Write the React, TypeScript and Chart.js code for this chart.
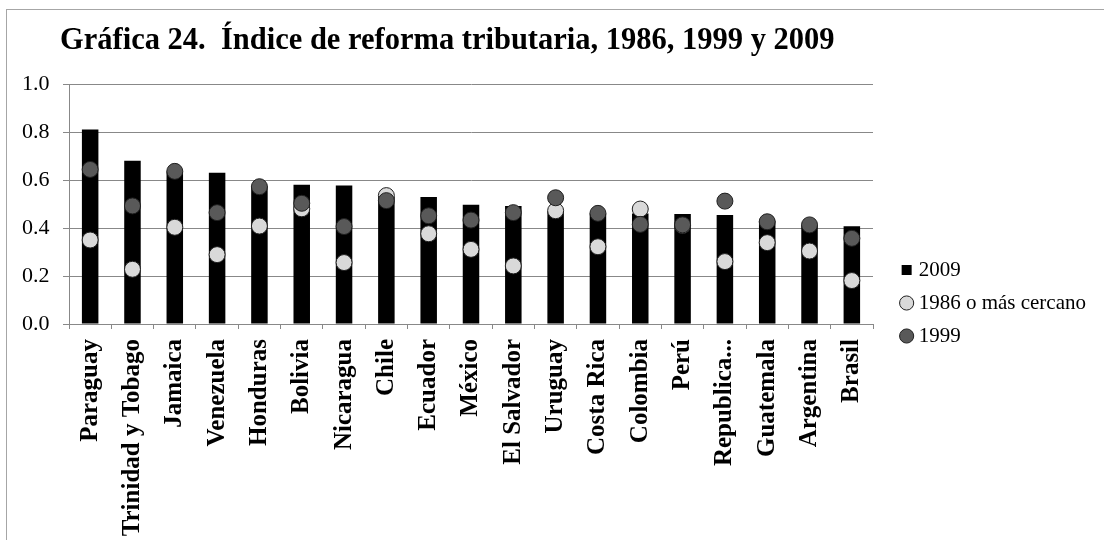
import React, { useEffect, useRef } from "react";
import { Chart, registerables } from "chart.js";

Chart.register(...registerables);

const TITLE = "Gráfica 24.  Índice de reforma tributaria, 1986, 1999 y 2009";

const categories = [
  "Paraguay",
  "Trinidad y Tobago",
  "Jamaica",
  "Venezuela",
  "Honduras",
  "Bolivia",
  "Nicaragua",
  "Chile",
  "Ecuador",
  "México",
  "El Salvador",
  "Uruguay",
  "Costa Rica",
  "Colombia",
  "Perú",
  "Republica...",
  "Guatemala",
  "Argentina",
  "Brasil",
];

const values2009 = [0.81, 0.68, 0.635, 0.63, 0.575, 0.58, 0.577, 0.53, 0.529, 0.497, 0.492, 0.47, 0.46, 0.46, 0.458, 0.454, 0.43, 0.41, 0.407];
const values1986 = [0.35, 0.228, 0.403, 0.289, 0.408, 0.48, 0.256, 0.535, 0.376, 0.311, 0.242, 0.472, 0.322, 0.479, 0.41, 0.26, 0.339, 0.304, 0.181];
const values1999 = [0.644, 0.492, 0.636, 0.464, 0.572, 0.503, 0.406, 0.514, 0.451, 0.433, 0.464, 0.526, 0.461, 0.415, 0.413, 0.512, 0.426, 0.413, 0.357];

const yTicks = [0, 0.2, 0.4, 0.6, 0.8, 1.0];

const FONT = "'Liberation Serif', 'Times New Roman', serif";
const GRID = "#888888";
const PLOT_RIGHT = 873;
const PAD_RIGHT = 8;

export default function App() {
  const ref = useRef<HTMLCanvasElement | null>(null);

  useEffect(() => {
    if (!ref.current) return;
    Chart.defaults.font.family = FONT;
    const chart = new Chart(ref.current, {
      type: "bar",
      data: {
        labels: categories,
        datasets: [
          {
            type: "bar",
            label: "2009",
            data: values2009,
            backgroundColor: "#000000",
            borderColor: "#000000",
            borderWidth: 0,
            pointStyle: "rect",
            barPercentage: 0.39,
            categoryPercentage: 1,
            order: 3,
          } as any,
          {
            type: "line",
            label: "1986 o más cercano",
            data: values1986,
            showLine: false,
            backgroundColor: "#d9d9d9",
            borderColor: "#1f1f1f",
            borderWidth: 1,
            pointBackgroundColor: "#d9d9d9",
            pointBorderColor: "#1f1f1f",
            pointBorderWidth: 1,
            pointRadius: 8,
            pointHoverRadius: 8,
            pointStyle: "circle",
            order: 2,
          } as any,
          {
            type: "line",
            label: "1999",
            data: values1999,
            showLine: false,
            backgroundColor: "#595959",
            borderColor: "#1f1f1f",
            borderWidth: 1,
            pointBackgroundColor: "#595959",
            pointBorderColor: "#1f1f1f",
            pointBorderWidth: 1,
            pointRadius: 8,
            pointHoverRadius: 8,
            pointStyle: "circle",
            order: 1,
          } as any,
        ],
      },
      options: {
        responsive: false,
        animation: false,
        devicePixelRatio: 1,
        events: [],
        layout: { padding: { left: 60, top: 10, right: PAD_RIGHT, bottom: 4 } },
        plugins: {
          title: {
            display: true,
            text: TITLE,
            align: "start",
            color: "#000000",
            font: { family: FONT, size: 30.5, weight: "bold" },
            padding: { top: 13, bottom: 24.4 },
          },
          legend: {
            position: "right",
            align: "center",
            maxWidth: 320,
            labels: {
              usePointStyle: true,
              boxWidth: 3,
              boxHeight: 10,
              padding: 12,
              color: "#000000",
              font: { family: FONT, size: 21 },
              sort: (a: any, b: any) => a.datasetIndex - b.datasetIndex,
            },
          },
          tooltip: { enabled: false },
        },
        scales: {
          x: {
            type: "category",
            offset: true,
            grid: {
              offset: true,
              drawOnChartArea: false,
              drawTicks: true,
              tickLength: 5,
              color: GRID,
            },
            border: { display: true, color: GRID },
            ticks: {
              autoSkip: false,
              maxRotation: 90,
              minRotation: 90,
              padding: 10,
              color: "#000000",
              font: { family: FONT, size: 25, weight: "bold" },
            },
            afterFit: (s: any) => {
              s.height = 272;
            },
          },
          y: {
            min: 0,
            max: 1,
            afterBuildTicks: (s: any) => {
              s.ticks = yTicks.map((v) => ({ value: v }));
            },
            ticks: {
              mirror: true,
              crossAlign: "near",
              padding: -47,
              color: "#000000",
              font: { family: FONT, size: 22 },
              callback: (v: any) => Number(v).toFixed(1),
            },
            grid: { color: GRID, tickLength: 6 },
            border: { color: GRID },
            afterFit: (s: any) => {
              s.width = 9;
            },
          },
          y2: {
            position: "right",
            display: true,
            min: 0,
            max: 1,
            grid: { display: false, drawTicks: false },
            border: { display: false },
            ticks: { display: false },
            afterFit: (s: any) => {
              const lw = s.chart.legend ? s.chart.legend.width : 0;
              s.width = Math.max(0, s.chart.width - PAD_RIGHT - lw - PLOT_RIGHT);
            },
          },
        },
      } as any,
    });
    return () => chart.destroy();
  }, []);

  return (
    <div
      style={{
        position: "absolute",
        left: 0,
        top: 0,
        width: 1104,
        height: 540,
        overflow: "hidden",
        background: "#ffffff",
      }}
    >
      <div
        style={{
          position: "absolute",
          left: 6,
          top: 9,
          width: 1200,
          height: 700,
          borderLeft: "1px solid #a6a6a6",
          borderTop: "1px solid #a6a6a6",
          pointerEvents: "none",
        }}
      />
      <canvas
        ref={ref}
        width={1104}
        height={600}
        style={{ position: "absolute", left: 0, top: 0, width: 1104, height: 600, display: "block" }}
      />
    </div>
  );
}
